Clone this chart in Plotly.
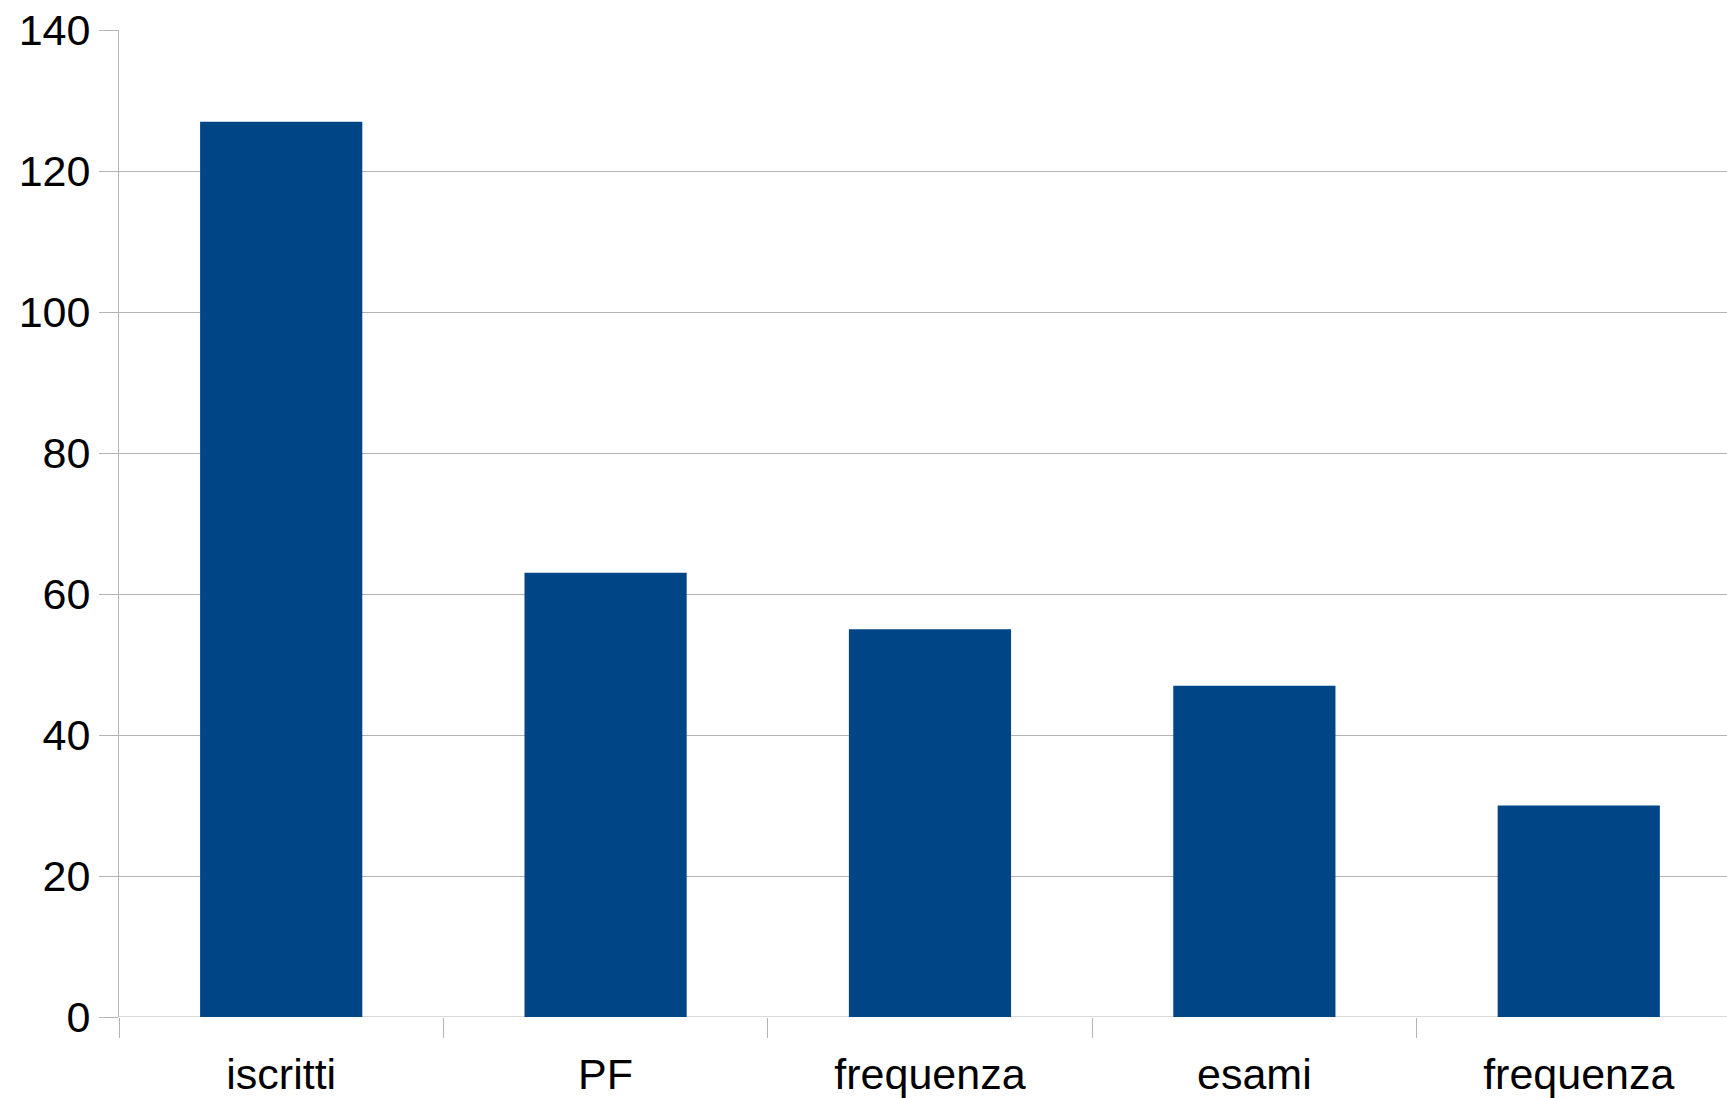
import plotly.graph_objects as go

categories = ["iscritti", "PF", "frequenza", "esami", "frequenza"]
values = [127, 63, 55, 47, 30]
y_ticks = [0, 20, 40, 60, 80, 100, 120, 140]

BAR = "#004586"
GRID = "#b3b3b3"
FONT = "Liberation Sans, Arial, sans-serif"

pos = list(range(len(categories)))

fig = go.Figure(go.Bar(x=pos, y=values, marker=dict(color=BAR, line=dict(width=0)), width=0.5))

fig.update_layout(
    width=1727, height=1098,
    margin=dict(l=119, r=0, t=30, b=81, pad=0),
    paper_bgcolor="white", plot_bgcolor="white",
    font=dict(family=FONT, size=43, color="black"),
    showlegend=False,
)
fig.update_xaxes(
    type="linear",
    range=[-0.5, 4.457],
    tickvals=pos, ticktext=categories,
    showgrid=False, zeroline=False,
    showline=False,
    ticks="", 
    minor=dict(tick0=-0.5, dtick=1, ticks="outside", ticklen=20, tickcolor=GRID, tickwidth=1, showgrid=False),
    tickfont=dict(size=43, family=FONT, color="black"),
    ticklabelstandoff=28,
)
fig.update_yaxes(
    range=[0, 140],
    tickvals=y_ticks,
    showgrid=True, gridcolor=GRID, gridwidth=1,
    zeroline=False,
    showline=True, linecolor=GRID, linewidth=1,
    ticks="outside", ticklen=19, tickcolor=GRID, tickwidth=1,
    tickfont=dict(size=43, family=FONT, color="black"),
    ticklabelstandoff=0,
)
fig.add_hline(y=0, line=dict(color=GRID, width=1), layer="below")

fig.write_html("out.html")
